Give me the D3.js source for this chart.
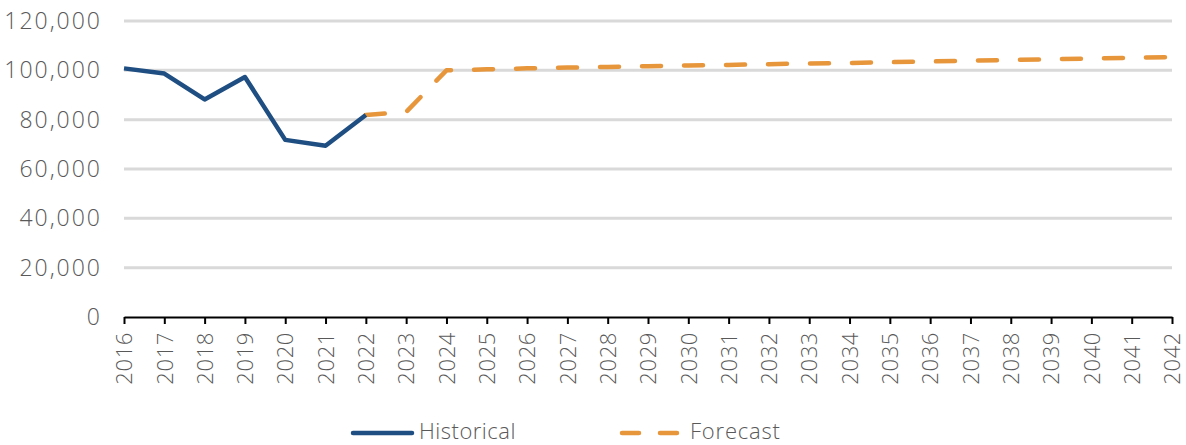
<!DOCTYPE html>
<html><head><meta charset="utf-8">
<script src="https://cdn.jsdelivr.net/npm/d3@7"></script>
<style>body{margin:0;background:#fff}svg text{font-family:"Open Sans",sans-serif;font-weight:300;fill:#595959}</style>
</head><body><svg id="c" width="1186" height="445"></svg>
<script>
const years = d3.range(2016, 2043);
const historicalYears = [2016,2017,2018,2019,2020,2021,2022];
const historicalValues = [100800,98700,88200,97300,71800,69400,81900];
const forecastYears = [2022,2023,2024,2025,2026,2027,2028,2029,2030,2031,2032,2033,2034,2035,2036,2037,2038,2039,2040,2041,2042];
const forecastValues = [81900,83100,100000,100400,100800,101100,101400,101700,102000,102200,102500,102800,103000,103300,103600,103900,104200,104500,104800,105100,105400];
const yTicks = [0,20000,40000,60000,80000,100000,120000];

const svg = d3.select("#c");
const x = d3.scalePoint().domain(years).range([124,1172]);
const y = d3.scaleLinear().domain([0,120000]).range([317,21]);

// gridlines
svg.append("g").selectAll("line").data(yTicks.filter(d=>d>0)).join("line")
  .attr("x1",124).attr("x2",1172).attr("y1",d=>y(d)).attr("y2",d=>y(d))
  .attr("stroke","#d9d9d9").attr("stroke-width",3);

// y labels
svg.append("g").selectAll("text").data(yTicks).join("text")
  .attr("x",102).attr("y",d=>y(d)).attr("dy","0.35em").attr("text-anchor","end")
  .style("font-size","23px").style("letter-spacing","2px").text(d3.format(","));

// x axis
const xa = svg.append("g").attr("transform","translate(0,317)")
  .call(d3.axisBottom(x).tickSize(7).tickSizeOuter(0));
xa.select(".domain").attr("stroke","#000").attr("stroke-width",2);
xa.selectAll(".tick line").attr("stroke","#000").attr("stroke-width",2);
xa.selectAll(".tick text").attr("transform","rotate(-90)").attr("x",-15).attr("y",0).attr("dy","0.35em")
  .attr("text-anchor","end").style("font-size","22px").style("letter-spacing","0.6px")
  .style("font-family",'"Open Sans",sans-serif').style("font-weight",300).attr("fill","#595959");

const line = d3.line().x(d=>x(d[0])).y(d=>y(d[1]));
svg.append("path").datum(forecastYears.map((yr,i)=>[yr,forecastValues[i]]))
  .attr("d",line).attr("fill","none").attr("stroke","#e8963b").attr("stroke-width",4.5)
  .attr("stroke-dasharray","19,23").attr("stroke-linecap","round").attr("stroke-linejoin","round");
svg.append("path").datum(historicalYears.map((yr,i)=>[yr,historicalValues[i]]))
  .attr("d",line).attr("fill","none").attr("stroke","#1f4e82").attr("stroke-width",4.5)
  .attr("stroke-linejoin","round");

// legend
const lg = svg.append("g");
lg.append("line").attr("x1",353).attr("x2",412).attr("y1",433).attr("y2",433)
  .attr("stroke","#1f4e82").attr("stroke-width",4.5).attr("stroke-linecap","round");
lg.append("text").attr("x",419).attr("y",431).attr("dy","0.35em").style("font-size","22px").style("letter-spacing","0.5px").text("Historical");
lg.append("line").attr("x1",622).attr("x2",678).attr("y1",433).attr("y2",433)
  .attr("stroke","#e8963b").attr("stroke-width",4.5).attr("stroke-linecap","round").attr("stroke-dasharray","17,21");
lg.append("text").attr("x",690).attr("y",431).attr("dy","0.35em").style("font-size","22px").style("letter-spacing","0.8px").text("Forecast");
</script></body></html>
